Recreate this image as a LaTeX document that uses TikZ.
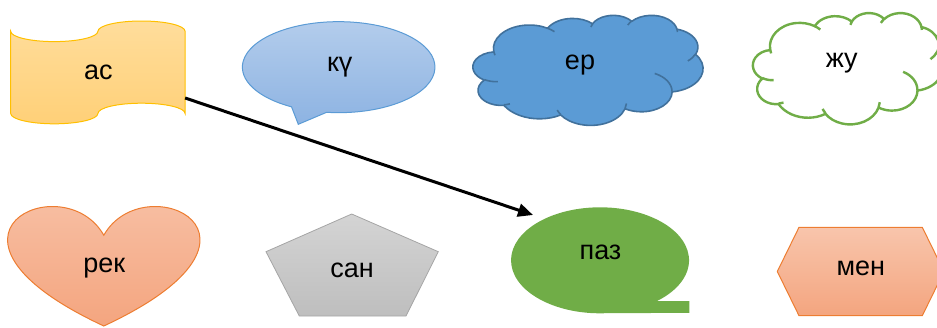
\documentclass[tikz,border=0pt]{standalone}
\usepackage{fontspec}
\setmainfont{Liberation Sans}
\usetikzlibrary{arrows.meta}
\definecolor{asTop}{RGB}{255,221,155}
\definecolor{asBot}{RGB}{255,208,120}
\definecolor{asLine}{RGB}{255,192,0}
\definecolor{kuTop}{RGB}{180,205,236}
\definecolor{kuBot}{RGB}{141,179,226}
\definecolor{kuLine}{RGB}{91,155,213}
\definecolor{erFill}{RGB}{91,155,213}
\definecolor{erLine}{RGB}{65,113,156}
\definecolor{grn}{RGB}{112,173,71}
\definecolor{orTop}{RGB}{248,197,172}
\definecolor{orBot}{RGB}{244,165,127}
\definecolor{orLine}{RGB}{237,125,49}
\definecolor{gyTop}{RGB}{212,212,212}
\definecolor{gyBot}{RGB}{190,190,190}
\definecolor{gyLine}{RGB}{165,165,165}
% elliptical arc conversion (visual angle -> parametric angle)
\newcommand\ooSet[5]{%
  \pgfmathsetmacro\ooT{atan2((#2)*sin(#4),(#3)*cos(#4))}%
  \pgfmathsetmacro\ooD{atan2((#2)*sin((#4)+(#5)),(#3)*cos((#4)+(#5)))-\ooT}%
  \pgfmathsetmacro\ooD{\ooD-360*round((\ooD-(#5))/360)}%
  \expandafter\let\csname #1t\endcsname\ooT
  \expandafter\let\csname #1d\endcsname\ooD
}
\ooSet{mA}{67.53}{91.90}{-190.4875}{123.7805}
\ooSet{mB}{53.33}{72.67}{-144.1024}{89.9452}
\ooSet{mC}{43.65}{59.45}{-145.8079}{99.7230}
\ooSet{mD}{48.57}{65.95}{-130.9861}{117.2417}
\ooSet{mE}{53.33}{72.73}{-78.7089}{109.0269}
\ooSet{mF}{67.75}{92.20}{-46.2673}{130.2690}
\ooSet{mG}{57.85}{78.67}{0.6250}{114.0333}
\ooSet{mH}{67.52}{92.15}{22.4516}{115.1726}
\ooSet{mI}{77.20}{105.43}{66.2426}{75.7110}
\ooSet{mJ}{43.60}{59.18}{-274.9421}{146.7356}
\ooSet{mK}{43.45}{59.45}{-246.8285}{152.5189}
\ooSet{iA}{43.45}{59.45}{86.7420}{26.4295}
\ooSet{iB}{43.60}{59.18}{73.6105}{11.4475}
\ooSet{iC}{67.52}{92.15}{137.6242}{14.0811}
\ooSet{iD}{67.52}{92.15}{6.4533}{15.9984}
\ooSet{iE}{57.85}{78.67}{-70.2924}{70.9174}
\ooSet{iF}{53.33}{72.73}{30.3180}{27.7515}
\ooSet{iG}{48.57}{65.95}{-13.7443}{14.8589}
\ooSet{iH}{48.57}{65.95}{-149.1815}{18.1954}
\ooSet{iI}{43.65}{59.45}{-163.4943}{17.6864}
\ooSet{iJ}{67.53}{91.90}{-66.7070}{12.3194}
\ooSet{iK}{67.53}{91.90}{157.6544}{11.8582}
\newcommand\ooCloud[5]{%
\begin{scope}[shift={(#1,#2)},xscale={#3/432},yscale={#4/432}]
\path[#5] (39.00,143.70)
  arc[x radius=67.53,y radius=91.90,start angle=\mAt,delta angle=\mAd]
  arc[x radius=53.33,y radius=72.67,start angle=\mBt,delta angle=\mBd]
  arc[x radius=43.65,y radius=59.45,start angle=\mCt,delta angle=\mCd]
  arc[x radius=48.57,y radius=65.95,start angle=\mDt,delta angle=\mDd]
  arc[x radius=53.33,y radius=72.73,start angle=\mEt,delta angle=\mEd]
  arc[x radius=67.75,y radius=92.20,start angle=\mFt,delta angle=\mFd]
  arc[x radius=57.85,y radius=78.67,start angle=\mGt,delta angle=\mGd]
  arc[x radius=67.52,y radius=92.15,start angle=\mHt,delta angle=\mHd]
  arc[x radius=77.20,y radius=105.43,start angle=\mIt,delta angle=\mId]
  arc[x radius=43.60,y radius=59.18,start angle=\mJt,delta angle=\mJd]
  arc[x radius=43.45,y radius=59.45,start angle=\mKt,delta angle=\mKd]
  -- cycle;
\path[#5,fill=none]
  (46.93,261.77) arc[x radius=43.45,y radius=59.45,start angle=\iAt,delta angle=\iAd]
  (69.28,348.99) arc[x radius=43.60,y radius=59.18,start angle=\iBt,delta angle=\iBd]
  (164.78,390.90) arc[x radius=67.52,y radius=92.15,start angle=\iCt,delta angle=\iCd]
  (288.27,347.51) arc[x radius=67.52,y radius=92.15,start angle=\iDt,delta angle=\iDd]
  (341.29,229.54) arc[x radius=57.85,y radius=78.67,start angle=\iEt,delta angle=\iEd]
  (417.98,153.54) arc[x radius=53.33,y radius=72.73,start angle=\iFt,delta angle=\iFd]
  (383.24,54.26) arc[x radius=48.57,y radius=65.95,start angle=\iGt,delta angle=\iGd]
  (290.78,39.52) arc[x radius=48.57,y radius=65.95,start angle=\iHt,delta angle=\iHd]
  (221.41,47.20) arc[x radius=43.65,y radius=59.45,start angle=\iIt,delta angle=\iId]
  (140.00,51.92) arc[x radius=67.53,y radius=91.90,start angle=\iJt,delta angle=\iJd]
  (41.27,157.89) arc[x radius=67.53,y radius=91.90,start angle=\iKt,delta angle=\iKd];
\end{scope}}
\tikzset{
  lbl/.style={anchor=base,inner sep=0pt,font=\fontsize{27}{30}\selectfont},
  asshape/.style={top color=asTop,bottom color=asBot,draw=asLine,line width=1pt},
  kushape/.style={top color=kuTop,bottom color=kuBot,draw=kuLine,line width=1pt},
  ershape/.style={fill=erFill,draw=erLine,line width=1.6pt,line join=round},
  zhushape/.style={fill=white,draw=grn,line width=2.4pt,line join=round},
  orshape/.style={top color=orTop,bottom color=orBot,draw=orLine,line width=1pt},
  gyshape/.style={top color=gyTop,bottom color=gyBot,draw=gyLine,line width=0.8pt},
  pazshape/.style={fill=grn},
  link/.style={line width=3pt,-{Triangle[length=15pt,width=13pt]}}
}
\begin{document}
\begin{tikzpicture}[x=1pt,y=-1pt]
\useasboundingbox (0,0) rectangle (937,327);
\clip (0,0) rectangle (937,327);
% ас : punched tape
\path[asshape] (10.7,31.3)
  arc[x radius=43.6,y radius=10.3,start angle=180,delta angle=-180]
  arc[x radius=43.6,y radius=10.3,start angle=180,delta angle=180]
  -- (185.1,113.5)
  arc[x radius=43.6,y radius=10.3,start angle=0,delta angle=-180]
  arc[x radius=43.6,y radius=10.3,start angle=0,delta angle=180]
  -- cycle;
\node[lbl] (as) at (98.3,79.3) {ас};
% кү : ellipse callout
\path[kushape] (298.3,124.3) -- (326.6,112.3)
  arc[x radius=96.3,y radius=45.5,start angle=97.2,end angle=-240.7] -- cycle;
\node[lbl] (ku) at (339.7,71.7) {кү};
% ер : cloud
\ooCloud{473}{15}{230}{110}{ershape}
\node[lbl] (er) at (580,69.5) {ер};
% жу : cloud
\ooCloud{753}{12.7}{190}{111.3}{zhushape}
\node[lbl] (zhu) at (841.7,67.5) {жу};
% рек : heart
\path[orshape] (103.8,235.25) .. controls (143.6,164.67) and (298.8,235.25) .. (103.8,326)
  .. controls (-91.2,235.25) and (64,164.67) .. (103.8,235.25) -- cycle;
\node[lbl] (rek) at (104.2,272.5) {рек};
% сан : pentagon
\path[gyshape] (351.7,214) -- (438.3,251.7) -- (406,316) -- (299.3,316) -- (266,251.7) -- cycle;
\node[lbl] (san) at (352,277) {сан};
% паз : ellipse callout
\path[pazshape] (656.5,301) -- (689.3,301) -- (689.3,312.9) -- (607.8,313.1)
  arc[x radius=89,y radius=53,start angle=85,end angle=410.6] -- cycle;
\node[lbl] (paz) at (600.5,259.5) {паз};
% мен : hexagon
\path[orshape] (799,227.3) -- (922.3,227.3) -- (944,271.5) -- (922.3,315.7) -- (799,315.7) -- (777.3,271.5) -- cycle;
\node[lbl] (men) at (860.8,275.3) {мен};
% connector
\coordinate (asR) at (185.1,98);
\coordinate (pazA) at (533,215);
\draw[link] (asR) -- (pazA);
\end{tikzpicture}
\end{document}
